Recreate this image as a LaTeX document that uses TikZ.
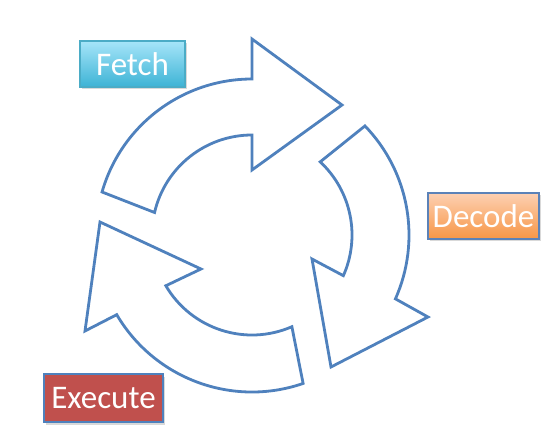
\documentclass[tikz,border=0pt]{standalone}
\usepackage{fontspec}
\setmainfont{Carlito}
\usetikzlibrary{shadows}
\definecolor{arrowblue}{HTML}{4F81BD}
\definecolor{fetchtop}{HTML}{A6E5F9}
\definecolor{fetchbot}{HTML}{3DB3D5}
\definecolor{fetchline}{HTML}{4BACC6}
\definecolor{dectop}{HTML}{FDD0B2}
\definecolor{decbot}{HTML}{F79646}
\definecolor{decline}{HTML}{5B82B8}
\definecolor{exefill}{HTML}{C0504D}
\begin{document}
\begin{tikzpicture}[x=1pt,y=1pt,
  cyc/.style={draw=arrowblue, line width=2.8pt, fill=white, line join=miter},
  lbl/.style={line width=1.2pt, text=white, inner sep=0pt,
    font=\fontsize{33}{38}\selectfont,
    drop shadow={opacity=0.3, shadow xshift=1.5pt, shadow yshift=-2.5pt}}]
\useasboundingbox (0,0) rectangle (559,434);
\begin{scope}[shift={(252,199)}]
  % Fetch arrow
  \draw[cyc] (164:156) arc[start angle=164, end angle=90, radius=156]
    -- (0,196) -- (90,130) -- (0,65) -- (90:100)
    arc[start angle=90, end angle=167, radius=100] -- cycle;
  % Decode arrow
  \draw[cyc] (44:157) arc[start angle=44, end angle=-24, radius=157]
    -- (176,-82) -- (79,-132) -- (60,-24) -- (-24:100)
    arc[start angle=-24, end angle=47, radius=100] -- cycle;
  % Execute arrow
  \draw[cyc] (-71:157) arc[start angle=-71, end angle=-149.5, radius=157]
    -- (-167,-96) -- (-152,13) -- (-51,-34) -- (-149.5:100)
    arc[start angle=-149.5, end angle=-66.5, radius=100] -- cycle;
\end{scope}
\node[lbl, draw=fetchline, top color=fetchtop, bottom color=fetchbot,
  minimum width=105pt, minimum height=46pt] (fetch) at (132.5,370) {Fetch};
\node[lbl, draw=decline, top color=dectop, bottom color=decbot,
  minimum width=111pt, minimum height=46pt] (decode) at (483.5,218) {Decode};
\node[lbl, draw=arrowblue, fill=exefill,
  minimum width=119pt, minimum height=48pt] (execute) at (103.5,36) {Execute};
\end{tikzpicture}
\end{document}
